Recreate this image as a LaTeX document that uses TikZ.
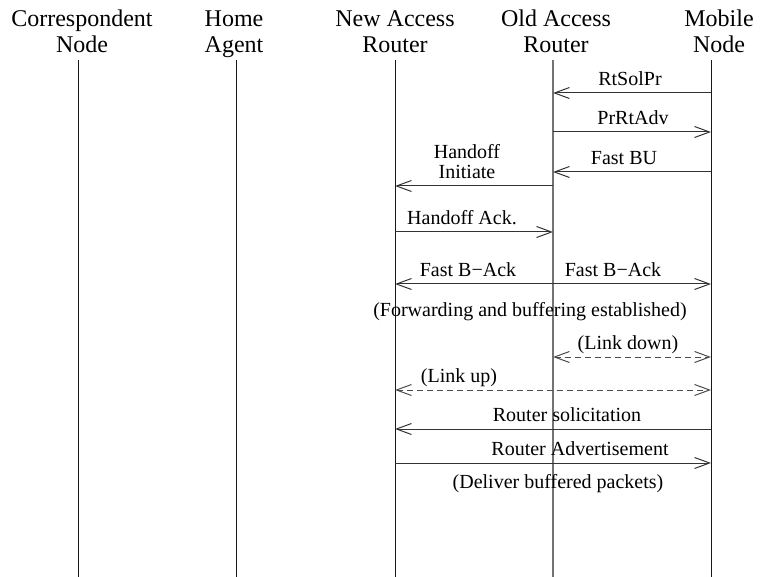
\documentclass[tikz,border=0pt]{standalone}
\usepackage{fontspec}
\setmainfont{Liberation Serif}
\usetikzlibrary{arrows.meta}
\begin{document}
\begin{tikzpicture}[x=1pt,y=-1pt,
  head/.style={font=\fontsize{24}{26}\selectfont, align=center, inner sep=0pt,
               text depth=0pt, anchor=south},
  lbl/.style={font=\fontsize{20}{20.5}\selectfont, align=center, inner sep=0pt,
              text depth=0pt, anchor=south},
  life/.style={line width=0.9pt, black!90},
  oldlife/.style={line width=1.6pt, black!55},
  tip/.tip={Straight Barb[length=15pt,width=11pt]},
  msg/.style={line width=1pt, black!80, -tip},
  twoway/.style={line width=1pt, black!70, tip-tip, dash pattern=on 6pt off 4pt}
]
\useasboundingbox (0,0) rectangle (760,577);

% participants (placed on the baseline of their second line)
\node[head] (cn)  at (82,53)  {Correspondent\\Node};
\node[head] (ha)  at (234,53) {Home\\Agent};
\node[head] (nar) at (395,53) {New Access\\Router};
\node[head] (oar) at (556,53) {Old Access\\Router};
\node[head] (mn)  at (719,53) {Mobile\\Node};

% lifelines
\coordinate (cnT)  at (78,60);   \coordinate (cnB)  at (78,577);
\coordinate (haT)  at (236,60);  \coordinate (haB)  at (236,577);
\coordinate (narT) at (395,60);  \coordinate (narB) at (395,577);
\coordinate (oarT) at (553,60);  \coordinate (oarB) at (553,577);
\coordinate (mnT)  at (711,60);  \coordinate (mnB)  at (711,577);
\draw[life] (cnT) -- (cnB);
\draw[life] (haT) -- (haB);
\draw[life] (narT) -- (narB);
\draw[oldlife] (oarT) -- (oarB);
\draw[life] (mnT) -- (mnB);

% message end points
\foreach \n/\y in {1/93, 2/132, 3/172, 4/186, 5/232, 6/284, 7/357, 8/390, 9/429, 10/463} {
  \coordinate (n\n) at (395,\y);
  \coordinate (o\n) at (553,\y);
  \coordinate (m\n) at (711,\y);
}

% messages
\draw[msg] (m1) -- (o1);
\node[lbl] (l1) at (630,86) {RtSolPr};

\draw[msg] (o2) -- (m2);
\node[lbl] (l2) at (633,125) {PrRtAdv};

\draw[msg] (m3) -- (o3);
\node[lbl] (l3) at (624,165) {Fast BU};

\draw[msg] (o4) -- (n4);
\node[lbl] (l4) at (467,179) {Handoff\\Initiate};

\draw[msg] (n5) -- (o5);
\node[lbl] (l5) at (462,225) {Handoff Ack.};

\draw[msg] (o6) -- (n6);
\draw[msg] (o6) -- (m6);
\node[lbl] (l6a) at (468,277) {Fast B−Ack};
\node[lbl] (l6b) at (613,277) {Fast B−Ack};

\node[lbl] (fw) at (530,317) {(Forwarding and buffering established)};

\draw[twoway] (o7) -- (m7);
\node[lbl] (l7) at (628,350) {(Link down)};

\draw[twoway] (n8) -- (m8);
\node[lbl] (l8) at (459,383) {(Link up)};

\draw[msg] (m9) -- (n9);
\node[lbl] (l9) at (567,422) {Router solicitation};

\draw[msg] (n10) -- (m10);
\node[lbl] (l10) at (580,456) {Router Advertisement};

\node[lbl] (dl) at (558,489) {(Deliver buffered packets)};
\end{tikzpicture}
\end{document}
